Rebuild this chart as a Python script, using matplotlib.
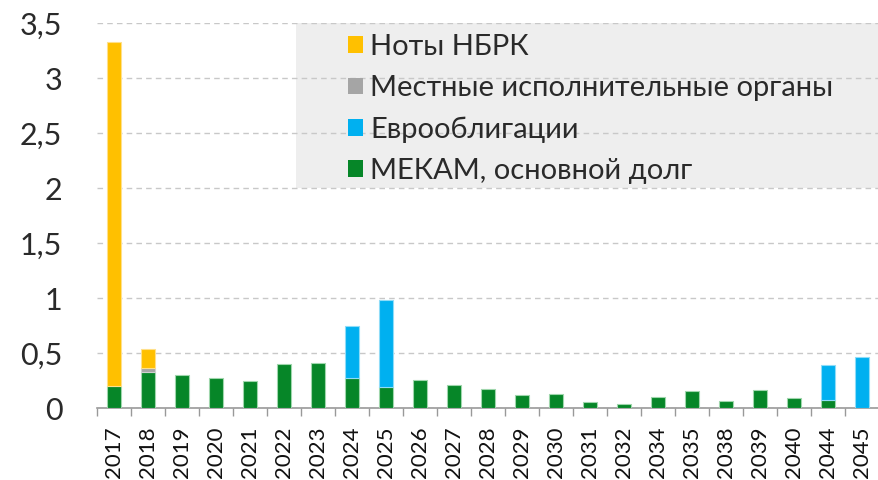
import matplotlib
matplotlib.use("Agg")
import matplotlib.pyplot as plt
import numpy as np
from matplotlib.patches import Rectangle, Patch

# ---- data ----
years = ["2017", "2018", "2019", "2020", "2021", "2022", "2023", "2024", "2025",
         "2026", "2027", "2028", "2029", "2030", "2031", "2032", "2034", "2035",
         "2038", "2039", "2040", "2044", "2045"]
mekam = [0.20, 0.33, 0.30, 0.28, 0.25, 0.40, 0.41, 0.28, 0.19,
         0.26, 0.21, 0.18, 0.12, 0.13, 0.055, 0.036, 0.10, 0.155,
         0.066, 0.167, 0.09, 0.08, 0.0]
local_gov = [0.0, 0.04, 0.0, 0.0, 0.0, 0.0, 0.0, 0.0, 0.0,
             0.0, 0.0, 0.0, 0.0, 0.0, 0.0, 0.0, 0.0, 0.0,
             0.0, 0.0, 0.0, 0.0, 0.0]
eurobonds = [0.0, 0.0, 0.0, 0.0, 0.0, 0.0, 0.0, 0.47, 0.79,
             0.0, 0.0, 0.0, 0.0, 0.0, 0.0, 0.0, 0.0, 0.0,
             0.0, 0.0, 0.0, 0.31, 0.47]
nbrk_notes = [3.13, 0.17, 0.0, 0.0, 0.0, 0.0, 0.0, 0.0, 0.0,
              0.0, 0.0, 0.0, 0.0, 0.0, 0.0, 0.0, 0.0, 0.0,
              0.0, 0.0, 0.0, 0.0, 0.0]
series_names = ["Ноты НБРК", "Местные исполнительные органы",
                "Еврооблигации", "МЕКАМ, основной долг"]
ytick_vals = [0, 0.5, 1, 1.5, 2, 2.5, 3, 3.5]
ytick_labels = ["0", "0,5", "1", "1,5", "2", "2,5", "3", "3,5"]

# ---- palette ----
YELLOW = "#FFC000"
GREY = "#A5A5A5"
BLUE = "#00B0F0"
GREEN = "#068628"
INK = "#2a2a2a"

fig = plt.figure(figsize=(8.79, 4.80), dpi=100)
ax = fig.add_axes([97 / 879, 71.7 / 480, 782 / 879, (480 - 23.3 - 71.7) / 480])

x = np.arange(len(years))
w = 0.44
m = np.array(mekam)
g = np.array(local_gov)
e = np.array(eurobonds)
n = np.array(nbrk_notes)

kw = dict(width=w, linewidth=0.8, zorder=3)
b1 = ax.bar(x, m, color=GREEN, edgecolor="#9fd6ac", **kw)
b2 = ax.bar(x, g, bottom=m, color=GREY, edgecolor="#d0d0d0", **kw)
b3 = ax.bar(x, e, bottom=m + g, color=BLUE, edgecolor="#8fdcf8", **kw)
b4 = ax.bar(x, n, bottom=m + g + e, color=YELLOW, edgecolor="#ffe08a", **kw)
# hide empty segments so their edges don't show
for cont in (b1, b2, b3, b4):
    for p in cont.patches:
        if p.get_height() == 0:
            p.set_visible(False)

ax.set_xlim(-0.5, len(years) - 0.5)
ax.set_ylim(0, 3.5)

# grid
ax.set_yticks(ytick_vals)
ax.set_yticklabels(ytick_labels, fontsize=22, color=INK,
                   fontfamily="Lato", fontweight="normal")
ax.yaxis.grid(True, linestyle=(0, (4, 3)), color="#c8c8c8", linewidth=1, zorder=1)
ax.tick_params(axis="y", length=0, pad=25)

# x axis: labels centered, ticks at boundaries
ax.set_xticks(x)
ax.set_xticklabels(years, rotation=90, fontsize=16, color="#111111",
                   fontfamily="Lato")
ax.set_xticks(np.arange(len(years) + 1) - 0.5, minor=True)
ax.tick_params(axis="x", which="major", length=0, pad=13)
ax.tick_params(axis="x", which="minor", length=6, width=1, color="#999999")

for s in ["top", "right", "left"]:
    ax.spines[s].set_visible(False)
ax.spines["bottom"].set_color("#999999")
ax.spines["bottom"].set_linewidth(1.2)
ax.set_axisbelow(True)

# legend background box
box_x0 = (296 - 97) / 782
ax.add_patch(Rectangle((box_x0, 2.0 / 3.5), 1 - box_x0, 1.5 / 3.5,
                       transform=ax.transAxes, facecolor="#eeeeee",
                       edgecolor="none", zorder=0.5))

handles = [Patch(facecolor=c, edgecolor="none") for c in (YELLOW, GREY, BLUE, GREEN)]
leg = ax.legend(handles, series_names,
                loc="upper left", bbox_to_anchor=((328 - 97) / 782, 1.025),
                frameon=False,
                prop={"family": "Lato", "weight": "normal", "size": 21},
                handlelength=0.5, handleheight=0.5, handletextpad=0.25,
                labelspacing=0.52, borderaxespad=0.3)
for t in leg.get_texts():
    t.set_color(INK)

fig.savefig("out.png", dpi=100, facecolor="white")
